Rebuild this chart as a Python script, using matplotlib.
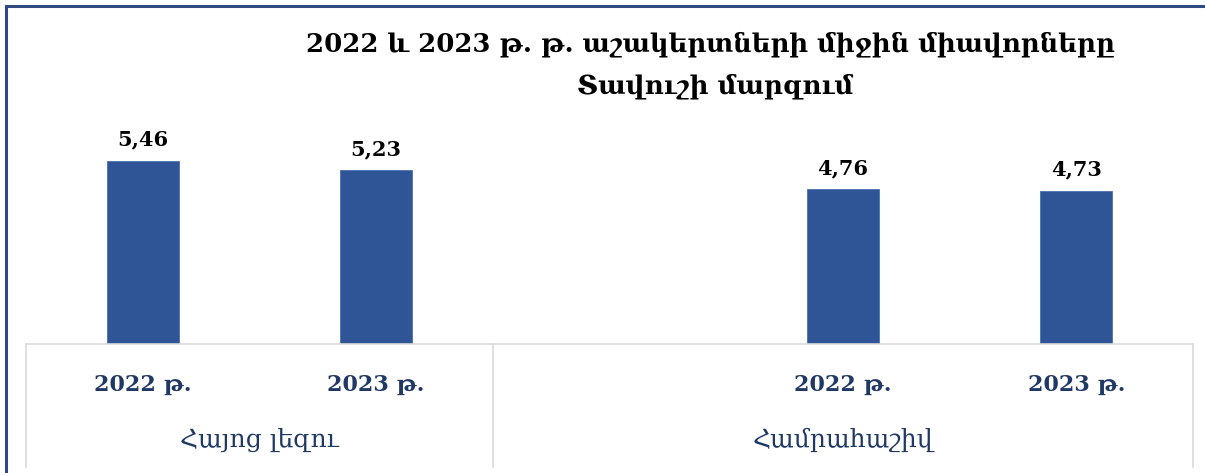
import matplotlib
matplotlib.use("Agg")
import matplotlib.pyplot as plt
from matplotlib.lines import Line2D
import numpy as np

# ---- data ----
title_lines = ["2022 և 2023 թ. թ. աշակերտների միջին միավորները", "Տավուշի մարզում"]
group_names = ["Հայոց լեզու", "Համրահաշիվ"]
slot_labels = ["2022 թ.", "2023 թ.", "", "2022 թ.", "2023 թ."]
slot_values = [5.46, 5.23, np.nan, 4.76, 4.73]
slot_group = [0, 0, 1, 1, 1]

W, H = 1205, 473
fig = plt.figure(figsize=(W / 100, H / 100), dpi=100)
FONT = "DejaVu Serif"
BAR = "#2F5597"
NAVY = "#1F3864"
GRID = "#D9D9D9"

x0, x1 = 26, 1193
ybase, ytop = 344, 138.5
ax = fig.add_axes([x0 / W, 1 - ybase / H, (x1 - x0) / W, (ybase - ytop) / H])

x = np.arange(len(slot_values))
vals = np.array(slot_values, dtype=float)
bars = ax.bar(x, vals - 1, bottom=1, width=0.31, color=BAR, edgecolor="#4A6FB0", linewidth=0.6)
ax.set_xlim(-0.5, len(x) - 0.5)
ax.set_ylim(1, 6)

for xi, v in zip(x, vals):
    if np.isnan(v):
        continue
    ax.annotate(f"{v:.2f}".replace(".", ","), (xi, v), xytext=(0, 8), textcoords="offset points",
                ha="center", va="bottom", fontsize=15, fontweight="bold", family=FONT,
                color="black")

for s in ["top", "left", "right"]:
    ax.spines[s].set_visible(False)
ax.spines["bottom"].set_color(GRID)
ax.spines["bottom"].set_linewidth(1.2)
ax.set_yticks([])
ax.set_xticks(x)
ax.set_xticklabels([])
ax.tick_params(axis="x", length=0)

axh = ybase - ytop
trans = ax.get_xaxis_transform()
for xi, lab in zip(x, slot_labels):
    if lab:
        ax.text(xi, -(385 - ybase) / axh, lab, transform=trans, ha="center", va="center",
                fontsize=16, fontweight="bold", family=FONT, color=NAVY)

# group separators and group labels
bounds = []
gs = np.array(slot_group)
for g in range(len(group_names)):
    idx = np.where(gs == g)[0]
    bounds.append((idx.min() - 0.5, idx.max() + 0.5))
seps = sorted(set([b for pair in bounds for b in pair]))
for sx in seps:
    ax.add_line(Line2D([sx, sx], [0, -(467 - ybase) / axh], transform=trans, color=GRID,
                       linewidth=1.2, clip_on=False))
for (a, b), name in zip(bounds, group_names):
    ax.text((a + b) / 2, -(440 - ybase) / axh, name, transform=trans, ha="center", va="center",
            fontsize=18, family=FONT, color=NAVY)

# title
fig.text(710 / W, 1 - 44 / H, title_lines[0], ha="center", va="center", fontsize=18.6,
         fontweight="bold", family=FONT)
fig.text(715 / W, 1 - 86 / H, title_lines[1], ha="center", va="center", fontsize=18.8,
         fontweight="bold", family=FONT)

# outer border (top and left)
bc = "#2F4A80"
fig.add_artist(Line2D([6 / W, 1], [1 - 6 / H, 1 - 6 / H], transform=fig.transFigure, color=bc, linewidth=2.2))
fig.add_artist(Line2D([6 / W, 6 / W], [0, 1 - 6 / H], transform=fig.transFigure, color=bc, linewidth=2.2))

fig.savefig("out.png", dpi=100)
